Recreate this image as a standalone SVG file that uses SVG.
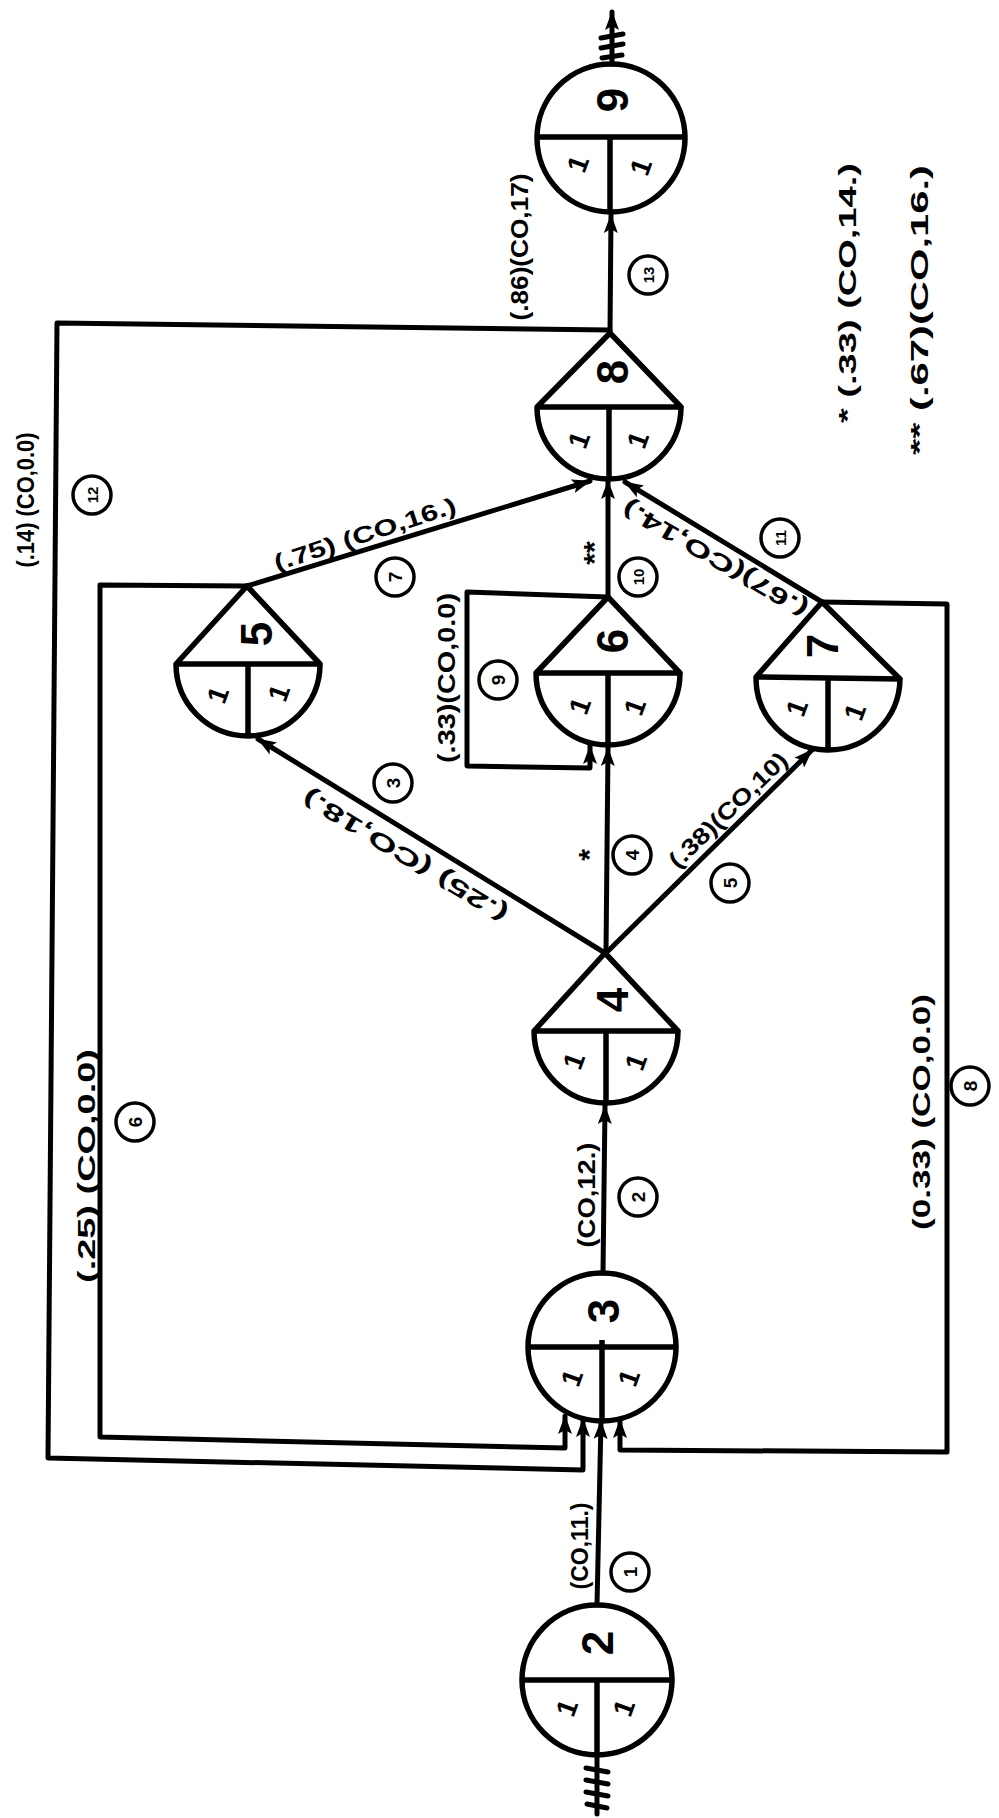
<svg xmlns="http://www.w3.org/2000/svg" width="999" height="1818" viewBox="0 0 999 1818">
<style>
.ln{fill:none;stroke:#000;stroke-width:5;stroke-linecap:round;stroke-linejoin:round}
.nd{fill:none;stroke:#000;stroke-width:5.5;stroke-linejoin:round}
.cc{fill:none;stroke:#000;stroke-width:3.5}
text{font-family:"Liberation Sans",Arial,sans-serif;font-weight:bold;fill:#000;text-anchor:middle;dominant-baseline:central}
.num{font-size:44px}
.one{font-size:28px}
.lbl{font-size:23px}
.cn{font-size:19px}
.cn2{font-size:15px}
.st{font-size:30px}
</style>
<defs>
<marker id="ah" markerUnits="userSpaceOnUse" markerWidth="20" markerHeight="16" viewBox="0 0 20 16" refX="18" refY="8" orient="auto">
<path d="M0,1 L19,8 L0,15 L4,8 Z" fill="#000"/>
</marker>
</defs>
<rect width="999" height="1818" fill="#fff"/>

<g id="connectors">
<line class="ln" x1="597" y1="1605" x2="601" y2="1421" marker-end="url(#ah)"/>
<line class="ln" x1="603" y1="1273" x2="605" y2="1106" marker-end="url(#ah)"/>
<line class="ln" x1="605" y1="953" x2="258" y2="739" marker-end="url(#ah)"/>
<line class="ln" x1="606" y1="953" x2="608" y2="748" marker-end="url(#ah)"/>
<line class="ln" x1="606" y1="953" x2="812" y2="750" marker-end="url(#ah)"/>
<path class="ln" d="M247,586 L100,585 L100,1437 L565,1448 L565,1416" marker-end="url(#ah)"/>
<line class="ln" x1="247" y1="586" x2="590" y2="481" marker-end="url(#ah)"/>
<path class="ln" d="M822,602 L947,604 L947,1452 L620,1450 L620,1420" marker-end="url(#ah)"/>
<path class="ln" d="M608,597 L467,592 L467,766 L590,768 L590,746" marker-end="url(#ah)"/>
<line class="ln" x1="608" y1="597" x2="608" y2="481" marker-end="url(#ah)"/>
<line class="ln" x1="822" y1="602" x2="625" y2="482" marker-end="url(#ah)"/>
<path class="ln" d="M610,330 L57,323 L48,1458 L583,1470 L583,1419" marker-end="url(#ah)"/>
<line class="ln" x1="610" y1="333" x2="611" y2="215" marker-end="url(#ah)"/>
<line class="ln" x1="612" y1="64" x2="612" y2="12" marker-end="url(#ah)"/>
<path class="ln" d="M601,38 L623,34 M601,48 L623,44 M602,58 L622,55"/>
<line class="ln" x1="597" y1="1756" x2="597" y2="1814"/>
<path class="ln" d="M586,1768 L608,1772 M586,1780 L608,1784 M586,1792 L608,1796 M587,1804 L607,1808"/>

<text class="lbl" x="580" y="1546" transform="rotate(-90 580 1546)" textLength="87" lengthAdjust="spacingAndGlyphs">(CO,11.)</text>
<text class="lbl" x="587" y="1195" transform="rotate(-90 587 1195)" textLength="105" lengthAdjust="spacingAndGlyphs">(CO,12.)</text>
<text class="lbl" x="405" y="856" transform="rotate(-149 405 856)" textLength="235" lengthAdjust="spacingAndGlyphs">(.25) (CO,18.)</text>
<text class="st" x="588" y="855" transform="rotate(-90 588 855)">*</text>
<text class="lbl" x="728" y="810" transform="rotate(-44 728 810)" textLength="155" lengthAdjust="spacingAndGlyphs">(.38)(CO,10)</text>
<text class="lbl" x="87" y="1166" transform="rotate(-90 87 1166)" textLength="234" lengthAdjust="spacingAndGlyphs">(.25) (CO,0.0)</text>
<text class="lbl" x="365" y="534" transform="rotate(-18 365 534)" textLength="190" lengthAdjust="spacingAndGlyphs">(.75) (CO,16.)</text>
<text class="lbl" x="922" y="1112" transform="rotate(-90 922 1112)" textLength="236" lengthAdjust="spacingAndGlyphs">(0.33) (CO,0.0)</text>
<text class="lbl" x="447" y="678" transform="rotate(-90 447 678)" textLength="170" lengthAdjust="spacingAndGlyphs">(.33)(CO,0.0)</text>
<text class="st" x="593" y="553" transform="rotate(-90 593 553)">**</text>
<text class="lbl" x="715" y="559" transform="rotate(-150 715 559)" textLength="210" lengthAdjust="spacingAndGlyphs">(.67)(CO,14.)</text>
<text class="lbl" x="26" y="500" transform="rotate(-90 26 500)" textLength="135" lengthAdjust="spacingAndGlyphs">(.14) (CO,0.0)</text>
<text class="lbl" x="520" y="247" transform="rotate(-90 520 247)" textLength="147" lengthAdjust="spacingAndGlyphs">(.86)(CO,17)</text>

<circle class="cc" cx="630" cy="1572" r="19"/><text class="cn" x="630" y="1572" transform="rotate(-90 630 1572)">1</text>
<circle class="cc" cx="638" cy="1197" r="19"/><text class="cn" x="638" y="1197" transform="rotate(-90 638 1197)">2</text>
<circle class="cc" cx="393" cy="783" r="19"/><text class="cn" x="393" y="783" transform="rotate(-90 393 783)">3</text>
<circle class="cc" cx="632" cy="855" r="19"/><text class="cn" x="632" y="855" transform="rotate(-90 632 855)">4</text>
<circle class="cc" cx="730" cy="883" r="19"/><text class="cn" x="730" y="883" transform="rotate(-90 730 883)">5</text>
<circle class="cc" cx="135" cy="1122" r="19"/><text class="cn" x="135" y="1122" transform="rotate(-90 135 1122)">6</text>
<circle class="cc" cx="395" cy="577" r="19"/><text class="cn" x="395" y="577" transform="rotate(-90 395 577)">7</text>
<circle class="cc" cx="970" cy="1086" r="19"/><text class="cn" x="970" y="1086" transform="rotate(-90 970 1086)">8</text>
<circle class="cc" cx="498" cy="680" r="19"/><text class="cn" x="498" y="680" transform="rotate(-90 498 680)">9</text>
<circle class="cc" cx="638" cy="577" r="19"/><text class="cn2" x="638" y="577" transform="rotate(-90 638 577)">10</text>
<circle class="cc" cx="780" cy="538" r="19"/><text class="cn2" x="780" y="538" transform="rotate(-90 780 538)">11</text>
<circle class="cc" cx="92" cy="495" r="19"/><text class="cn2" x="92" y="495" transform="rotate(-90 92 495)">12</text>
<circle class="cc" cx="648" cy="275" r="19"/><text class="cn2" x="648" y="275" transform="rotate(-90 648 275)">13</text>
</g>

<g id="node2">
<circle class="nd" cx="597" cy="1680" r="75"/>
<path class="nd" d="M522,1680 H672 M597,1680 V1755"/>
<text class="num" x="597" y="1643" transform="rotate(-90 597 1643)">2</text>
<text class="one" x="567" y="1708" transform="rotate(-70 567 1708)">1</text>
<text class="one" x="624" y="1708" transform="rotate(-70 624 1708)">1</text>
</g>
<g id="node3">
<circle class="nd" cx="602" cy="1347" r="74"/>
<path class="nd" d="M528,1347 H676 M602,1340 V1421"/>
<text class="num" x="603" y="1311" transform="rotate(-90 603 1311)">3</text>
<text class="one" x="572" y="1378" transform="rotate(-70 572 1378)">1</text>
<text class="one" x="629" y="1378" transform="rotate(-70 629 1378)">1</text>
</g>
<g id="node4">
<path class="nd" d="M534,1031 L605,953 L678,1031 Z M534,1031 A72,72 0 0 0 678,1031 M606,1031 V1103"/>
<text class="num" x="612" y="1000" transform="rotate(-90 612 1000)">4</text>
<text class="one" x="574" y="1061" transform="rotate(-70 574 1061)">1</text>
<text class="one" x="636" y="1062" transform="rotate(-70 636 1062)">1</text>
</g>
<g id="node5">
<path class="nd" d="M176,664 L247,586 L320,664 Z M176,664 A72,72 0 0 0 320,664 M248,664 V736"/>
<text class="num" x="256" y="634" transform="rotate(-90 256 634)">5</text>
<text class="one" x="218" y="695" transform="rotate(-70 218 695)">1</text>
<text class="one" x="279" y="693" transform="rotate(-70 279 693)">1</text>
</g>
<g id="node6">
<path class="nd" d="M536,673 L608,597 L680,673 Z M536,673 A72,72 0 0 0 680,673 M608,673 V745"/>
<text class="num" x="612" y="641" transform="rotate(-90 612 641)">6</text>
<text class="one" x="580" y="706" transform="rotate(-70 580 706)">1</text>
<text class="one" x="635" y="707" transform="rotate(-70 635 707)">1</text>
</g>
<g id="node7">
<path class="nd" d="M756,677 L822,602 L900,679 Z M756,677 A72,72 0 0 0 900,679 M828,678 V750"/>
<text class="num" x="822" y="646" transform="rotate(-90 822 646)">7</text>
<text class="one" x="797" y="708" transform="rotate(-70 797 708)">1</text>
<text class="one" x="855" y="712" transform="rotate(-70 855 712)">1</text>
</g>
<g id="node8">
<path class="nd" d="M537,407 L610,333 L681,407 Z M537,407 A72,72 0 0 0 681,407 M609,407 V479"/>
<text class="num" x="612" y="372" transform="rotate(-90 612 372)">8</text>
<text class="one" x="579" y="440" transform="rotate(-70 579 440)">1</text>
<text class="one" x="638" y="440" transform="rotate(-70 638 440)">1</text>
</g>
<g id="node9">
<circle class="nd" cx="611" cy="138" r="74"/>
<path class="nd" d="M537,137 H685 M610,137 V212"/>
<text class="num" x="612" y="100" transform="rotate(-90 612 100)">9</text>
<text class="one" x="578" y="164" transform="rotate(-70 578 164)">1</text>
<text class="one" x="641" y="167" transform="rotate(-70 641 167)">1</text>
</g>

<g id="legend">
<text class="lbl" x="848" y="293" transform="rotate(-90 848 293)" textLength="260" lengthAdjust="spacingAndGlyphs">* (.33) (CO,14.)</text>
<text class="lbl" x="920" y="310" transform="rotate(-90 920 310)" textLength="290" lengthAdjust="spacingAndGlyphs">** (.67)(CO,16.)</text>
</g>
</svg>
